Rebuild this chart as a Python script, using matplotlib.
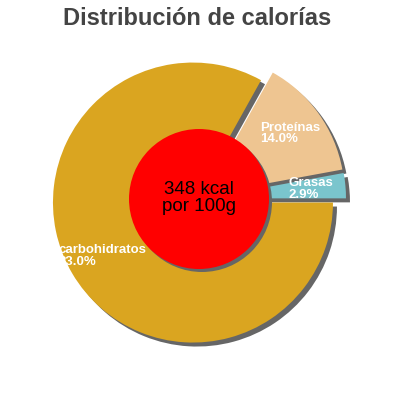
import matplotlib
matplotlib.use("Agg")
import matplotlib.pyplot as plt

plt.rcParams['font.family'] = ['Liberation Sans', 'DejaVu Sans']

# datos del gráfico
nutrients = ['Grasas', 'Proteínas', 'carbohidratos']
percents = [2.9, 14.0, 83.0]
colors = ['#7AC5CD', '#EEC591', '#DAA520']
kcal = 348
title = 'Distribución de calorías'

# layout en pixeles (1 unidad = 1 px)
cx, cy = 199, 201
radius = 140
gap = 7  # explode, en unidades de datos
shadow_off = 4


def fmt(pct, names=iter(nutrients)):
    return '%s\n%.1f%%' % (next(names), pct * sum(percents) / 100)


fig = plt.figure(figsize=(4, 4), dpi=100)
ax = fig.add_axes([0, 0, 1, 1])

# sombra
ax.pie(percents, explode=[gap] * 3, colors=['#666666'] * 3, startangle=0,
       center=(cx + shadow_off, cy - shadow_off), radius=radius,
       wedgeprops={'linewidth': 0}, frame=True)
# pastel
wedges, texts, autotexts = ax.pie(
    percents, explode=[gap] * 3, colors=colors, startangle=0,
    center=(cx, cy), radius=radius, autopct=fmt, pctdistance=0.75,
    wedgeprops={'linewidth': 0}, frame=True,
    textprops={'color': 'white', 'fontsize': 9.5, 'fontweight': 'bold'})
for t in autotexts:
    t.set_multialignment('left')
    t.set_linespacing(0.95)

ax.set_xlim(0, 400)
ax.set_ylim(0, 400)
ax.set_aspect('equal')
ax.axis('off')

# circulo central
ax.add_patch(plt.Circle((cx + 3, cy - 3), radius * 0.5, color='#666666', lw=0, zorder=5))
ax.add_patch(plt.Circle((cx, cy), radius * 0.5, color='#FF0000', lw=0, zorder=6))
ax.text(cx, cy + 1, '%d kcal\npor 100g' % kcal, ha='center', va='center',
        fontsize=13.5, color='black', zorder=7, linespacing=1.0)

fig.text(0.494, 1 - 25 / 400, title, ha='center', va='baseline',
         fontsize=17, fontweight='bold', color='#444444')

fig.savefig('out.png', dpi=100)
